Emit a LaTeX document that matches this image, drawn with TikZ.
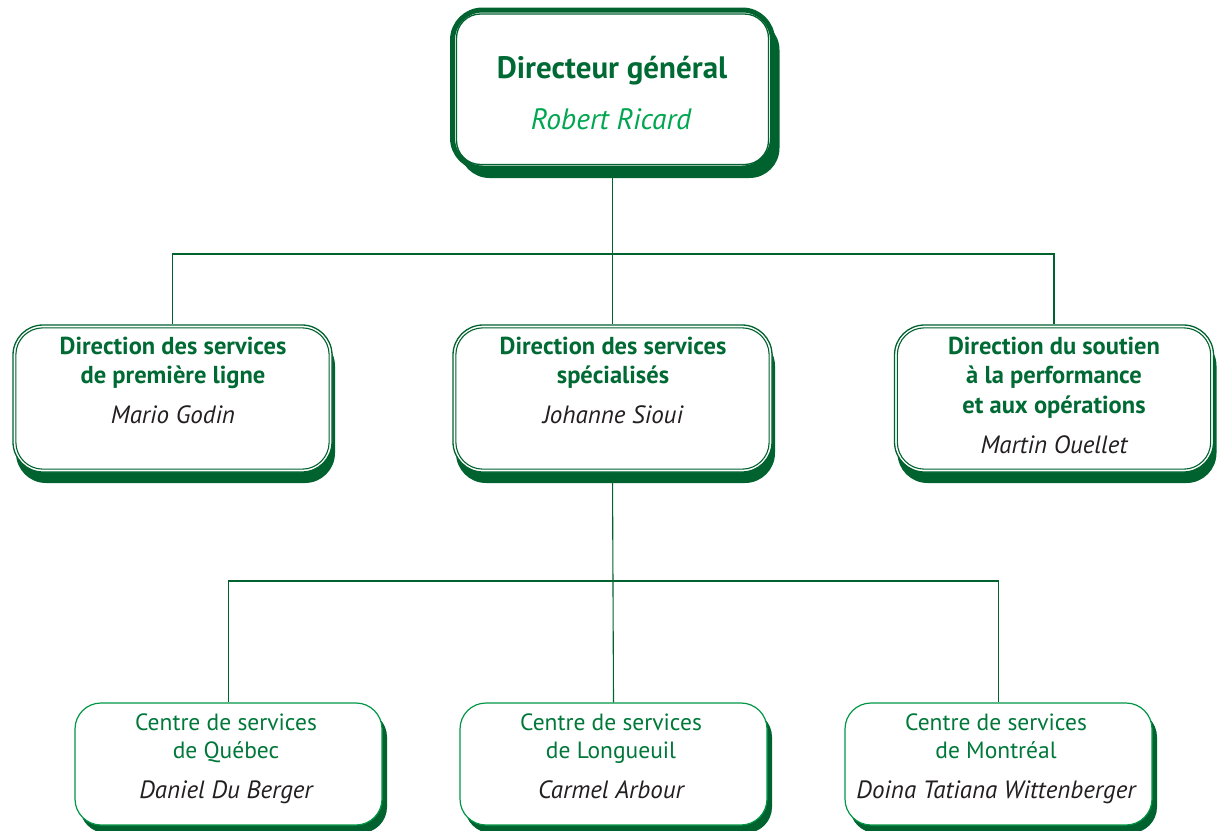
\documentclass[tikz,border=0pt]{standalone}
\usepackage{fontspec}
\setmainfont{PT Sans}
\usetikzlibrary{shadows}
\definecolor{dkgreen}{RGB}{0,98,46}
\definecolor{ttlgreen}{RGB}{0,106,52}
\definecolor{brgreen}{RGB}{0,166,80}
\definecolor{ctrgreen}{RGB}{0,120,58}
\definecolor{ctrline}{RGB}{0,150,70}
\definecolor{namecol}{RGB}{35,31,32}
\begin{document}
\begin{tikzpicture}[x=1pt,y=-1pt,
  topbox/.style={draw=dkgreen, line width=5pt, fill=white, rounded corners=30pt,
    minimum width=320pt, minimum height=158pt, inner sep=0pt,
    drop shadow={shadow xshift=7pt, shadow yshift=-10pt, fill=dkgreen, opacity=1}},
  innerline/.style={draw=dkgreen, line width=1.3pt, rounded corners=24pt},
  midbox/.style={draw=dkgreen, line width=1.3pt, fill=white, rounded corners=30pt,
    minimum width=319pt, minimum height=147pt, inner sep=0pt,
    drop shadow={shadow xshift=3pt, shadow yshift=-11pt, fill=dkgreen, opacity=1}},
  midinner/.style={draw=dkgreen, line width=1.1pt, rounded corners=27pt},
  ctrbox/.style={draw=ctrline, line width=1.2pt, fill=white, rounded corners=26pt,
    minimum width=307pt, minimum height=122pt, inner sep=0pt,
    drop shadow={shadow xshift=5pt, shadow yshift=-8pt, fill=dkgreen, opacity=1}},
  conn/.style={draw=dkgreen, line width=1.1pt},
  toptitle/.style={anchor=base, inner sep=0pt, text=ttlgreen, font=\fontsize{31}{36}\selectfont\bfseries},
  topname/.style={anchor=base, inner sep=0pt, text=brgreen, font=\fontsize{29.5}{34}\selectfont\itshape},
  midtitle/.style={anchor=base, inner sep=0pt, text=ttlgreen, font=\fontsize{24.5}{30}\selectfont\bfseries},
  person/.style={anchor=base, inner sep=0pt, text=namecol, font=\fontsize{25}{28}\selectfont\itshape},
  ctrtitle/.style={anchor=base, inner sep=0pt, text=ctrgreen, font=\fontsize{23.5}{29}\selectfont},
]
\useasboundingbox (0,0) rectangle (1220,830);

% connectors
\coordinate (bus1) at (612.5,254);
\coordinate (bus2) at (612.5,581);

% boxes
\node[topbox] (dg) at (612.5,89) {};
\draw[innerline] ([shift={(6.5,6.5)}]dg.north west) rectangle ([shift={(-6.5,-6)}]dg.south east);

\node[midbox] (d1) at (172.5,398.5) {};
\node[midbox] (d2) at (612.5,398.5) {};
\node[midbox] (d3) at (1054,398.5) {};
\foreach \n in {d1,d2,d3}{
  \draw[midinner] ([shift={(3.5,3.5)}]\n.north west) rectangle ([shift={(-3.5,-3.5)}]\n.south east);
}

\node[ctrbox] (c1) at (228.5,764) {};
\node[ctrbox] (c2) at (613.5,764) {};
\node[ctrbox] (c3) at (998.5,764) {};

\draw[conn] (dg.south) -- (d2.north);
\draw[conn] (d1.north) |- (bus1) -| (d3.north);
\draw[conn] (d2.south) -- (c2.north);
\draw[conn] (c1.north) |- (bus2) -| (c3.north);

% texts
\node[toptitle] (dgt) at (612,78) {Directeur général};
\node[topname] (dgn) at (611,129) {Robert Ricard};

\node[midtitle] (d1a) at (173,354) {Direction des services};
\node[midtitle] (d1b) at (173,383) {de première ligne};
\node[person] (d1n) at (173,423) {Mario Godin};

\node[midtitle] (d2a) at (613,354) {Direction des services};
\node[midtitle] (d2b) at (613,383) {spécialisés};
\node[person] (d2n) at (613,423) {Johanne Sioui};

\node[midtitle] (d3a) at (1054,354) {Direction du soutien};
\node[midtitle] (d3b) at (1054,383) {à la performance};
\node[midtitle] (d3c) at (1054,413) {et aux opérations};
\node[person] (d3n) at (1054,453) {Martin Ouellet};

\node[ctrtitle] (c1a) at (226,730) {Centre de services};
\node[ctrtitle] (c1b) at (226,758) {de Québec};
\node[person] (c1n) at (226,798) {Daniel Du Berger};

\node[ctrtitle] (c2a) at (611,730) {Centre de services};
\node[ctrtitle] (c2b) at (611,758) {de Longueuil};
\node[person] (c2n) at (611,798) {Carmel Arbour};

\node[ctrtitle] (c3a) at (996,730) {Centre de services};
\node[ctrtitle] (c3b) at (996,758) {de Montréal};
\node[person] (c3n) at (996,798) {Doina Tatiana Wittenberger};
\end{tikzpicture}
\end{document}
